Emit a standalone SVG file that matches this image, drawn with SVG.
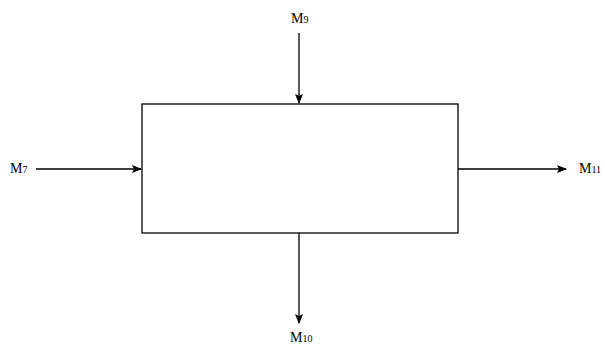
<svg xmlns="http://www.w3.org/2000/svg" width="605" height="347" viewBox="0 0 605 347">
<style>
.ln{stroke:#000;stroke-width:1.3;fill:none}
.t{font-family:"Liberation Serif",serif;font-size:14px;fill:#000}
.s{font-size:10px}
</style>
<defs>
<marker id="ah" markerWidth="10" markerHeight="8" refX="9" refY="4" orient="auto" markerUnits="userSpaceOnUse">
<path d="M0,0 L10,4 L0,8 L2,4 Z" fill="#000"/>
</marker>
</defs>
<rect width="605" height="347" fill="#fff"/>
<g id="box"><rect x="142" y="104" width="316" height="129" class="ln"/></g>
<g id="connectors">
<line x1="36" y1="169" x2="141" y2="169" class="ln" marker-end="url(#ah)"/>
<line x1="299" y1="33" x2="299" y2="103" class="ln" marker-end="url(#ah)"/>
<line x1="458" y1="169" x2="566" y2="169" class="ln" marker-end="url(#ah)"/>
<line x1="299" y1="233" x2="299" y2="323" class="ln" marker-end="url(#ah)"/>
</g>
<g id="m7"><text x="10" y="173" class="t">M<tspan class="s">7</tspan></text></g>
<g id="m9"><text x="291" y="23" class="t">M<tspan class="s">9</tspan></text></g>
<g id="m11"><text x="579" y="173" class="t">M<tspan class="s">11</tspan></text></g>
<g id="m10"><text x="290" y="342" class="t">M<tspan class="s">10</tspan></text></g>
</svg>
